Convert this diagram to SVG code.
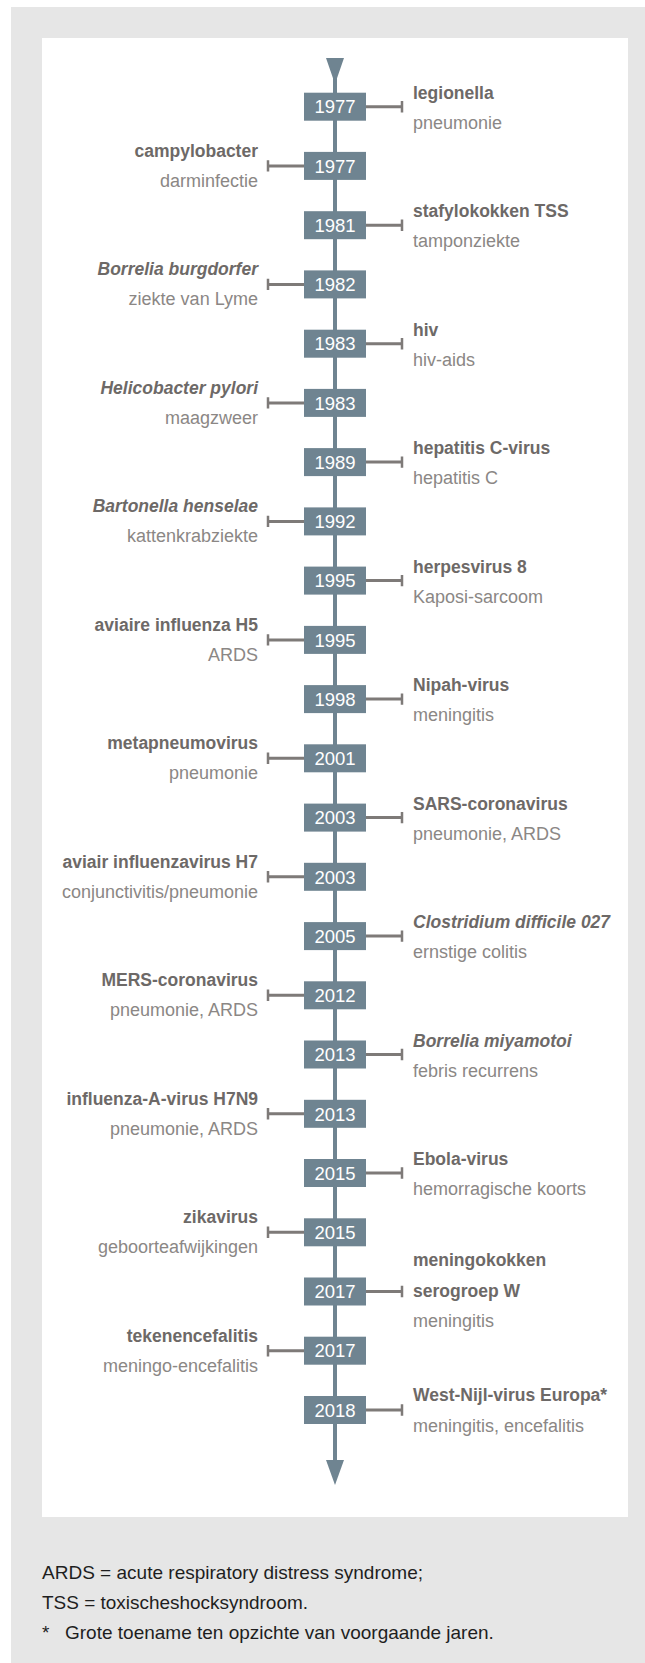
<svg xmlns="http://www.w3.org/2000/svg" width="645" height="1663" viewBox="0 0 645 1663">
<style>
.bg{fill:#e6e6e6}
.panel{fill:#ffffff}
.axis{stroke:#6f8491;stroke-width:4;fill:none}
.head{fill:#6f8491}
.box{fill:#6f8491}
.yr{font-family:"Liberation Sans",Arial,sans-serif;font-size:18.5px;fill:#ffffff;text-anchor:middle}
.con{stroke:#7e7a78;stroke-width:3;fill:none}
.tk{stroke:#7e7a78;stroke-width:2.5;fill:none}
.t{font-family:"Liberation Sans",Arial,sans-serif;font-size:17.5px;font-weight:bold;fill:#6d6967}
.i{font-style:italic}
.s{font-family:"Liberation Sans",Arial,sans-serif;font-size:18px;fill:#8b8785}
.r{text-anchor:start}
.l{text-anchor:end}
.foot{font-family:"Liberation Sans",Arial,sans-serif;font-size:19px;fill:#1e1e1e}
</style>
<rect class="bg" x="11" y="7" width="634" height="1656"/>
<rect class="panel" x="42" y="38" width="586" height="1479"/>

<g id="connectors">
<line class="axis" x1="335" y1="70" x2="335" y2="1468"/>
<polygon class="head" points="326,58 344,58 335,84"/>
<polygon class="head" points="326,1460 344,1460 335,1485"/>
<path class="con" d="M366 106.7H402M304 165.9H268M366 225.2H402M304 284.4H268M366 343.7H402M304 402.9H268M366 462.1H402M304 521.4H268M366 580.6H402M304 639.9H268M366 699.1H402M304 758.3H268M366 817.6H402M304 876.8H268M366 936.1H402M304 995.3H268M366 1054.5H402M304 1113.8H268M366 1173H402M304 1232.3H268M366 1291.5H402M304 1350.7H268M366 1410H402"/>
<path class="tk" d="M402 101v11.4M268 160.2v11.4M402 219.5v11.4M268 278.7v11.4M402 338v11.4M268 397.2v11.4M402 456.4v11.4M268 515.7v11.4M402 574.9v11.4M268 634.2v11.4M402 693.4v11.4M268 752.6v11.4M402 811.9v11.4M268 871.1v11.4M402 930.4v11.4M268 989.6v11.4M402 1048.8v11.4M268 1108.1v11.4M402 1167.3v11.4M268 1226.6v11.4M402 1285.8v11.4M268 1345v11.4M402 1404.3v11.4"/>
</g>

<g id="n0" transform="translate(0,106.7)"><rect class="box" x="304" y="-14" width="62" height="28"/><text class="yr" x="335" y="6.7">1977</text><text class="t r" x="413" y="-8">legionella</text><text class="s r" x="413" y="22">pneumonie</text></g>
<g id="n1" transform="translate(0,165.9)"><rect class="box" x="304" y="-14" width="62" height="28"/><text class="yr" x="335" y="6.7">1977</text><text class="t l" x="258" y="-9">campylobacter</text><text class="s l" x="258" y="21">darminfectie</text></g>
<g id="n2" transform="translate(0,225.2)"><rect class="box" x="304" y="-14" width="62" height="28"/><text class="yr" x="335" y="6.7">1981</text><text class="t r" x="413" y="-8">stafylokokken TSS</text><text class="s r" x="413" y="22">tamponziekte</text></g>
<g id="n3" transform="translate(0,284.4)"><rect class="box" x="304" y="-14" width="62" height="28"/><text class="yr" x="335" y="6.7">1982</text><text class="t i l" x="258" y="-9">Borrelia burgdorfer</text><text class="s l" x="258" y="21">ziekte van Lyme</text></g>
<g id="n4" transform="translate(0,343.7)"><rect class="box" x="304" y="-14" width="62" height="28"/><text class="yr" x="335" y="6.7">1983</text><text class="t r" x="413" y="-8">hiv</text><text class="s r" x="413" y="22">hiv-aids</text></g>
<g id="n5" transform="translate(0,402.9)"><rect class="box" x="304" y="-14" width="62" height="28"/><text class="yr" x="335" y="6.7">1983</text><text class="t i l" x="258" y="-9">Helicobacter pylori</text><text class="s l" x="258" y="21">maagzweer</text></g>
<g id="n6" transform="translate(0,462.1)"><rect class="box" x="304" y="-14" width="62" height="28"/><text class="yr" x="335" y="6.7">1989</text><text class="t r" x="413" y="-8">hepatitis C-virus</text><text class="s r" x="413" y="22">hepatitis C</text></g>
<g id="n7" transform="translate(0,521.4)"><rect class="box" x="304" y="-14" width="62" height="28"/><text class="yr" x="335" y="6.7">1992</text><text class="t i l" x="258" y="-9">Bartonella henselae</text><text class="s l" x="258" y="21">kattenkrabziekte</text></g>
<g id="n8" transform="translate(0,580.6)"><rect class="box" x="304" y="-14" width="62" height="28"/><text class="yr" x="335" y="6.7">1995</text><text class="t r" x="413" y="-8">herpesvirus 8</text><text class="s r" x="413" y="22">Kaposi-sarcoom</text></g>
<g id="n9" transform="translate(0,639.9)"><rect class="box" x="304" y="-14" width="62" height="28"/><text class="yr" x="335" y="6.7">1995</text><text class="t l" x="258" y="-9">aviaire influenza H5</text><text class="s l" x="258" y="21">ARDS</text></g>
<g id="n10" transform="translate(0,699.1)"><rect class="box" x="304" y="-14" width="62" height="28"/><text class="yr" x="335" y="6.7">1998</text><text class="t r" x="413" y="-8">Nipah-virus</text><text class="s r" x="413" y="22">meningitis</text></g>
<g id="n11" transform="translate(0,758.3)"><rect class="box" x="304" y="-14" width="62" height="28"/><text class="yr" x="335" y="6.7">2001</text><text class="t l" x="258" y="-9">metapneumovirus</text><text class="s l" x="258" y="21">pneumonie</text></g>
<g id="n12" transform="translate(0,817.6)"><rect class="box" x="304" y="-14" width="62" height="28"/><text class="yr" x="335" y="6.7">2003</text><text class="t r" x="413" y="-8">SARS-coronavirus</text><text class="s r" x="413" y="22">pneumonie, ARDS</text></g>
<g id="n13" transform="translate(0,876.8)"><rect class="box" x="304" y="-14" width="62" height="28"/><text class="yr" x="335" y="6.7">2003</text><text class="t l" x="258" y="-9">aviair influenzavirus H7</text><text class="s l" x="258" y="21">conjunctivitis/pneumonie</text></g>
<g id="n14" transform="translate(0,936.1)"><rect class="box" x="304" y="-14" width="62" height="28"/><text class="yr" x="335" y="6.7">2005</text><text class="t i r" x="413" y="-8">Clostridium difficile 027</text><text class="s r" x="413" y="22">ernstige colitis</text></g>
<g id="n15" transform="translate(0,995.3)"><rect class="box" x="304" y="-14" width="62" height="28"/><text class="yr" x="335" y="6.7">2012</text><text class="t l" x="258" y="-9">MERS-coronavirus</text><text class="s l" x="258" y="21">pneumonie, ARDS</text></g>
<g id="n16" transform="translate(0,1054.5)"><rect class="box" x="304" y="-14" width="62" height="28"/><text class="yr" x="335" y="6.7">2013</text><text class="t i r" x="413" y="-8">Borrelia miyamotoi</text><text class="s r" x="413" y="22">febris recurrens</text></g>
<g id="n17" transform="translate(0,1113.8)"><rect class="box" x="304" y="-14" width="62" height="28"/><text class="yr" x="335" y="6.7">2013</text><text class="t l" x="258" y="-9">influenza-A-virus H7N9</text><text class="s l" x="258" y="21">pneumonie, ARDS</text></g>
<g id="n18" transform="translate(0,1173)"><rect class="box" x="304" y="-14" width="62" height="28"/><text class="yr" x="335" y="6.7">2015</text><text class="t r" x="413" y="-8">Ebola-virus</text><text class="s r" x="413" y="22">hemorragische koorts</text></g>
<g id="n19" transform="translate(0,1232.3)"><rect class="box" x="304" y="-14" width="62" height="28"/><text class="yr" x="335" y="6.7">2015</text><text class="t l" x="258" y="-9">zikavirus</text><text class="s l" x="258" y="21">geboorteafwijkingen</text></g>
<g id="n20" transform="translate(0,1291.5)"><rect class="box" x="304" y="-14" width="62" height="28"/><text class="yr" x="335" y="6.7">2017</text><text class="t r" x="413" y="-26">meningokokken</text><text class="t r" x="413" y="5">serogroep W</text><text class="s r" x="413" y="35">meningitis</text></g>
<g id="n21" transform="translate(0,1350.7)"><rect class="box" x="304" y="-14" width="62" height="28"/><text class="yr" x="335" y="6.7">2017</text><text class="t l" x="258" y="-9">tekenencefalitis</text><text class="s l" x="258" y="21">meningo-encefalitis</text></g>
<g id="n22" transform="translate(0,1410)"><rect class="box" x="304" y="-14" width="62" height="28"/><text class="yr" x="335" y="6.7">2018</text><text class="t r" x="413" y="-9">West-Nijl-virus Europa*</text><text class="s r" x="413" y="22">meningitis, encefalitis</text></g>

<g id="footnote">
<text class="foot" x="42" y="1579" textLength="381" lengthAdjust="spacingAndGlyphs">ARDS = acute respiratory distress syndrome;</text>
<text class="foot" x="42" y="1609" textLength="266" lengthAdjust="spacingAndGlyphs">TSS = toxischeshocksyndroom.</text>
<text class="foot" y="1639"><tspan x="42">*</tspan><tspan x="65">Grote toename ten opzichte van voorgaande jaren.</tspan></text>
</g>
</svg>
